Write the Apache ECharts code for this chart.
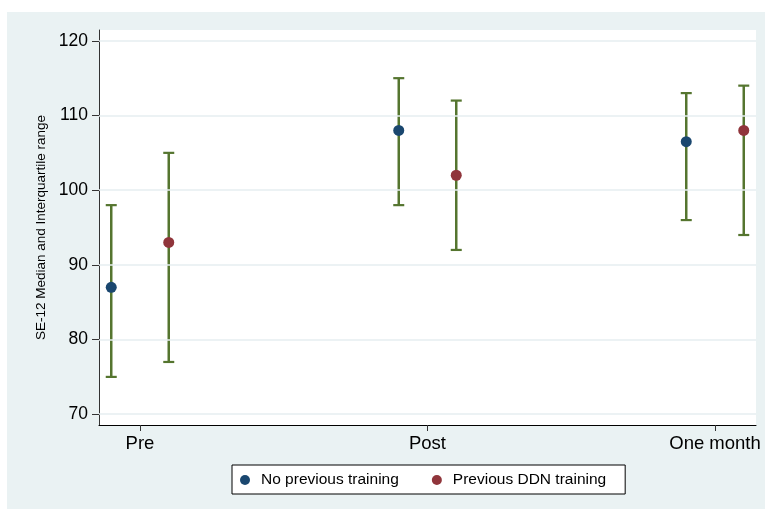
<!DOCTYPE html>
<html>
<head>
<meta charset="utf-8">
<script src="https://cdn.jsdelivr.net/npm/echarts@6/dist/echarts.min.js"></script>
<style>
html,body{margin:0;padding:0;background:#ffffff;width:765px;height:509px;overflow:hidden;}
#chart{position:absolute;left:7px;top:12px;width:758px;height:497px;background:#eaf2f3;}
</style>
</head>
<body>
<div id="chart"></div>
<script>
// ---- data ----
const categories = ['Pre', 'Post', 'One month'];
const seriesNames = ['No previous training', 'Previous DDN training'];
const noPrevMedian = [87, 108, 106.5];
const noPrevQ1 = [75, 98, 96];
const noPrevQ3 = [98, 115, 113];
const prevMedian = [93, 102, 108];
const prevQ1 = [77, 92, 94];
const prevQ3 = [105, 112, 114];
const yTicks = [70, 80, 90, 100, 110, 120];
const yTitle = 'SE-12 Median and Interquartile range';

// ---- layout / style ----
const groupOffset = [-0.1, 0.1];
const colors = ['#1a476f', '#90353b'];
const barColor = '#55752f';
const font = 'Liberation Sans, Arial, sans-serif';

const medians = [noPrevMedian, prevMedian];
const q1s = [noPrevQ1, prevQ1];
const q3s = [noPrevQ3, prevQ3];

function pts(g) {
  return categories.map((c, i) => [i + 1 + groupOffset[g], medians[g][i]]);
}
function bars(g) {
  return categories.map((c, i) => [i + 1 + groupOffset[g], q1s[g][i], q3s[g][i]]);
}

function renderBar(params, api) {
  const x = api.value(0), lo = api.value(1), hi = api.value(2);
  const a = api.coord([x, lo]), b = api.coord([x, hi]);
  const hw = 5.5;
  const st = { stroke: barColor, lineWidth: 2.5 };
  const cs = { stroke: barColor, lineWidth: 2.2 };
  return {
    type: 'group',
    children: [
      { type: 'line', shape: { x1: a[0], y1: a[1], x2: b[0], y2: b[1] }, style: st },
      { type: 'line', shape: { x1: a[0] - hw, y1: a[1], x2: a[0] + hw, y2: a[1] }, style: cs },
      { type: 'line', shape: { x1: b[0] - hw, y1: b[1], x2: b[0] + hw, y2: b[1] }, style: cs }
    ]
  };
}

const chart = echarts.init(document.getElementById('chart'), null, { renderer: 'canvas' });
const option = {
  animation: false,
  backgroundColor: '#eaf2f3',
  grid: {
    left: 92, top: 18, right: 9, bottom: 84,
    show: true, backgroundColor: '#ffffff', borderWidth: 0
  },
  legend: {
    data: seriesNames.map((n, i) => ({ name: n, itemStyle: { color: colors[i], opacity: 1 } })),
    left: 225, top: 453,
    icon: 'circle', itemWidth: 10, itemHeight: 10, itemGap: 33,
    padding: [7, 19, 6, 8],
    backgroundColor: '#ffffff', borderColor: '#000000', borderWidth: 1,
    textStyle: { fontFamily: font, fontSize: 15.5, color: '#000000', padding: [0, 0, 0, 6] }
  },
  xAxis: {
    type: 'value', min: 0.8574, max: 3.1426,
    axisLine: { show: true, onZero: false, lineStyle: { color: '#000000', width: 1 } },
    axisTick: { show: true, customValues: [1, 2, 3], length: 6, lineStyle: { color: '#333333' } },
    axisLabel: {
      customValues: [1, 2, 3], margin: 9,
      formatter: v => categories[Math.round(v) - 1],
      fontFamily: font, fontSize: 18.5, color: '#000000'
    },
    splitLine: { show: false }
  },
  yAxis: {
    type: 'value', min: 68.56, max: 121.45,
    name: yTitle, nameLocation: 'middle', nameGap: 51, nameRotate: 90,
    nameTextStyle: { fontFamily: font, fontSize: 13.5, color: '#000000' },
    axisLine: { show: true, onZero: false, lineStyle: { color: '#333333', width: 1 } },
    axisTick: { show: true, customValues: yTicks, length: 7, lineStyle: { color: '#333333' } },
    axisLabel: { customValues: yTicks, margin: 11, fontFamily: font, fontSize: 17.5, color: '#000000' },
    splitLine: { show: false }
  },
  series: [
    {
      name: 'grid', type: 'line', data: [], z: 1, silent: true,
      markLine: {
        silent: true, symbol: ['none', 'none'], label: { show: false },
        lineStyle: { color: '#e6eef1', width: 1.5, type: 'solid' },
        data: yTicks.map(v => ({ yAxis: v }))
      }
    },
    { name: 'bars0', type: 'custom', renderItem: renderBar, data: bars(0), z: 2, silent: true },
    { name: 'bars1', type: 'custom', renderItem: renderBar, data: bars(1), z: 2, silent: true },
    {
      name: seriesNames[0], type: 'scatter', data: pts(0), z: 3,
      symbol: 'circle', symbolSize: 11, itemStyle: { color: colors[0], opacity: 1 }
    },
    {
      name: seriesNames[1], type: 'scatter', data: pts(1), z: 3,
      symbol: 'circle', symbolSize: 11, itemStyle: { color: colors[1], opacity: 1 }
    }
  ]
};
chart.setOption(option);
</script>
</body>
</html>
